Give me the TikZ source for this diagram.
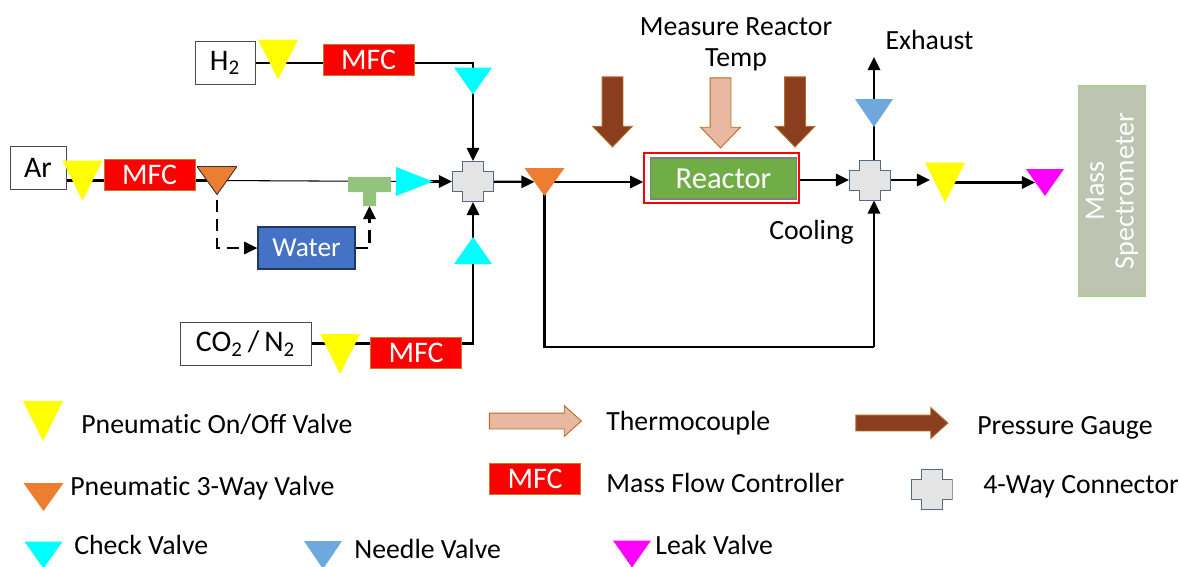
\documentclass[tikz,border=0pt]{standalone}
\usepackage{fontspec}
\setmainfont{Carlito}[Ligatures=NoCommon]
\usepackage{xcolor}
\definecolor{valveyellow}{HTML}{FFFF00}
\definecolor{valveorange}{HTML}{ED7D31}
\definecolor{valvecyan}{HTML}{00FFFF}
\definecolor{valvemagenta}{HTML}{FF00FF}
\definecolor{valveneedle}{HTML}{6FA8DC}
\definecolor{mfcred}{HTML}{FF0000}
\definecolor{mfcedge}{HTML}{C07A2A}
\definecolor{waterblue}{HTML}{4472C4}
\definecolor{waterdark}{HTML}{1F3864}
\definecolor{teegreen}{HTML}{93C47D}
\definecolor{reactorgreen}{HTML}{70AD47}
\definecolor{connfill}{HTML}{E4E4E4}
\definecolor{connedge}{HTML}{5A6A85}
\definecolor{thermofill}{HTML}{E8B9A0}
\definecolor{gaugefill}{HTML}{8B3E1E}
\definecolor{arrowedge}{HTML}{B06A2A}
\definecolor{specfill}{HTML}{BFC4B2}
\definecolor{specedge}{HTML}{A9D18E}
\usetikzlibrary{shapes.arrows, arrows.meta, backgrounds}

\begin{document}
\begin{tikzpicture}[
  x=0.02cm, y=-0.02cm,
  txt/.style={inner sep=0pt, font=\fontsize{15.8}{17.5}\selectfont},
  gasbox/.style={rectangle, draw=black!70, line width=0.5pt, fill=white, inner sep=0pt,
    minimum height=0.86cm, font=\fontsize{17}{18}\selectfont},
  mfc/.style={rectangle, draw=mfcedge, line width=0.5pt, fill=mfcred, text=white, inner sep=0pt,
    minimum width=1.82cm, minimum height=0.62cm, font=\fontsize{17}{18}\selectfont},
  valvebase/.style={rectangle, inner sep=0pt, outer sep=0pt},
  pointdown/.style={valvebase, path picture={\path[#1] (path picture bounding box.north west)
    -- (path picture bounding box.north east) -- (path picture bounding box.south) -- cycle;}},
  pointup/.style={valvebase, path picture={\path[#1] (path picture bounding box.south west)
    -- (path picture bounding box.south east) -- (path picture bounding box.north) -- cycle;}},
  pointright/.style={valvebase, path picture={\path[#1] (path picture bounding box.north west)
    -- (path picture bounding box.south west) -- (path picture bounding box.east) -- cycle;}},
  onoff/.style={pointdown={fill=valveyellow}, minimum width=0.8cm, minimum height=0.8cm},
  threeway/.style={pointdown={fill=valveorange}, minimum width=0.8cm, minimum height=0.56cm},
  needle/.style={pointdown={fill=valveneedle}, minimum width=0.76cm, minimum height=0.56cm},
  leak/.style={pointdown={fill=valvemagenta}, minimum width=0.76cm, minimum height=0.54cm},
  checkd/.style={pointdown={fill=valvecyan}, minimum width=0.76cm, minimum height=0.54cm},
  fourway/.style={rectangle, inner sep=0pt, outer sep=0pt, minimum width=0.84cm, minimum height=0.82cm,
    path picture={\filldraw[fill=connfill, draw=connedge, line width=0.4pt]
      (-10.5,-20) -- (10.5,-20) -- (10.5,-10) -- (20.5,-10) -- (20.5,10) -- (10.5,10)
      -- (10.5,20) -- (-10.5,20) -- (-10.5,10) -- (-20.5,10) -- (-20.5,-10) -- (-10.5,-10) -- cycle;}},
  tee/.style={rectangle, inner sep=0pt, outer sep=0pt, minimum width=0.86cm, minimum height=0.58cm,
    path picture={\fill[teegreen] (-21.5,-14.5) -- (21.5,-14.5) -- (21.5,0.5) -- (6.5,0.5)
      -- (6.5,14.5) -- (-6.5,14.5) -- (-6.5,0.5) -- (-21.5,0.5) -- cycle;}},
  downarrow/.style={single arrow, shape border rotate=270, inner sep=0.2cm, outer sep=0pt, line width=0.5pt,
    draw=arrowedge, minimum height=1.4cm, minimum width=0.78cm,
    single arrow head extend=0.19cm, single arrow tip angle=88},
  sidearrow/.style={single arrow, inner sep=0.15cm, outer sep=0pt, line width=0.5pt, draw=arrowedge,
    minimum height=1.84cm, minimum width=0.6cm,
    single arrow head extend=0.15cm, single arrow tip angle=84},
  pipe/.style={line width=1.3pt, black},
  flow/.style={pipe, -{Stealth[length=7.5pt, width=7pt, inset=0pt]}},
  intovalve/.style={shorten >=-#1}
]
\useasboundingbox (0,0) rectangle (1180,566);

% gas lines
\node[gasbox, minimum width=1.2cm] (h2box) at (225,63) {H\textsubscript{2}\hspace{2pt}};
\node[onoff] (h2valve) at (278,59.5) {};
\node[mfc] (h2mfc) at (368.5,59.5) {MFC};
\node[checkd] (h2check) at (473,81) {};

\node[gasbox, minimum width=1.12cm] (arbox) at (38,167.5) {Ar\hspace{2pt}};
\node[onoff] (arvalve) at (82.5,180.5) {};
\node[mfc] (armfc) at (149.5,174.5) {MFC};
\node[pointdown={fill=valveorange, draw=black!80, line width=0.5pt}, minimum width=0.8cm,
  minimum height=0.56cm] (arthree) at (217,180.5) {};
\node[tee] (watertee) at (369.5,191.5) {};
\node[pointright={fill=valvecyan}, minimum width=0.74cm, minimum height=0.58cm] (archeck) at (414.5,181.5) {};
\node[rectangle, draw=waterdark, line width=0.7pt, fill=waterblue, text=white, inner sep=0pt,
  minimum width=1.94cm, minimum height=0.84cm, font=\fontsize{15.6}{18}\selectfont] (water) at (306.5,248) {Water};

\node[gasbox, minimum width=2.62cm] (co2box) at (245.5,343.5) {CO\textsubscript{2}\,/\,N\textsubscript{2}\hspace{3pt}};
\node[onoff] (co2valve) at (340,354) {};
\node[mfc] (co2mfc) at (416,352.5) {MFC};
\node[pointup={fill=valvecyan}, minimum width=0.76cm, minimum height=0.54cm] (co2check) at (473,250.5) {};

\node[fourway] (mixconn) at (473,181.5) {};

% reactor section
\node[threeway] (outthree) at (544.5,182) {};
\node[rectangle, draw=red, line width=0.8pt, fill=white, minimum width=3.1cm, minimum height=1cm,
  inner sep=0pt] (frame) at (721.5,178) {};
\node[rectangle, draw=black!50, line width=0.7pt, fill=reactorgreen, text=white, inner sep=0pt,
  minimum width=2.92cm, minimum height=0.82cm, font=\fontsize{17.4}{20}\selectfont] (reactor) at (723.5,178.5)
  {\raisebox{-1pt}{Reactor}};
\node[fourway] (coolconn) at (870,180) {};
\node[onoff] (ventvalve) at (945,182.5) {};
\node[leak] (leakvalve) at (1045,182.5) {};
\node[needle] (needlevalve) at (874,113) {};
\coordinate (exhaust) at (874,57);
\coordinate (bypass) at (874,347);
\node[rectangle, rotate=90, draw=specedge, line width=0.7pt, fill=specfill, text=white, inner sep=0pt, align=center,
  minimum width=4.2cm, minimum height=1.34cm, font=\fontsize{16}{17}\selectfont] (spec) at (1112,191)
  {Mass\\Spectrometer};

\node[downarrow, fill=gaugefill] (gaugea) at (612.5,106.5) {};
\node[downarrow, fill=thermofill] (thermo) at (720.5,107.5) {};
\node[downarrow, fill=gaugefill] (gaugeb) at (795,106.5) {};

\node[txt, align=center] (measure) at (736,44) {Measure Reactor\\Temp};
\node[txt] (exhausttxt) at (929.5,40) {Exhaust};
\node[txt] (cooling) at (811.5,232) {Cooling};

% legend
\node[onoff] (lgonoff) at (43,421) {};
\node[txt, anchor=west] (lgonofftxt) at (81,424) {Pneumatic On/Off Valve};
\node[threeway] (lgthree) at (43.5,497) {};
\node[txt, anchor=west] (lgthreetxt) at (70,488) {Pneumatic 3-Way Valve};
\node[checkd] (lgcheck) at (43.5,555) {};
\node[txt, anchor=west] (lgchecktxt) at (74,545) {Check Valve};
\node[needle] (lgneedle) at (323,555) {};
\node[txt, anchor=west] (lgneedletxt) at (354,549) {Needle Valve};
\node[leak] (lgleak) at (632,554) {};
\node[txt, anchor=west] (lgleaktxt) at (655,545) {Leak Valve};
\node[sidearrow, fill=thermofill] (lgthermo) at (531,421) {};
\node[txt, anchor=west] (lgthermotxt) at (606,423) {Thermocouple};
\node[mfc] (lgmfc) at (535,478.5) {MFC};
\node[txt, anchor=west] (lgmfctxt) at (606,483) {Mass Flow Controller};
\node[sidearrow, fill=gaugefill] (lggauge) at (897.5,423) {};
\node[txt, anchor=west] (lggaugetxt) at (977,428) {Pressure Gauge};
\node[fourway] (lgconn) at (931.5,489) {};
\node[txt, anchor=west] (lgconntxt) at (983,487) {4-Way Connector};

\begin{scope}[on background layer]
\draw[pipe] (h2box.east) -- (h2box -| h2mfc.center);
\draw[flow] (h2box -| h2mfc.center) -| (mixconn);
\draw[pipe] (arbox.east |- arvalve) -- (arthree.center);
\draw[pipe, line width=0.6pt] (arthree.center) -- (archeck.center);
\draw[flow] (archeck.center) -- (mixconn);
\draw[flow, dashed, dash pattern=on 7pt off 4pt] (arthree.center) |- (water);
\draw[flow, dashed, dash pattern=on 7pt off 4pt] (water.east) -| (watertee);
\draw[pipe] (co2box.east) -- (co2box -| co2mfc.center);
\draw[flow] (co2box -| co2mfc.center) -| (mixconn);
\draw[flow, intovalve=0.2cm] (mixconn) -- (outthree);
\draw[flow] (outthree.center) -- (frame.west |- outthree);
\draw[flow] (frame.east |- coolconn) -- (coolconn);
\draw[flow, intovalve=0.1cm] (coolconn) -- (coolconn -| ventvalve.west);
\draw[flow, intovalve=0.18cm] (ventvalve.center) -- (leakvalve);
\draw[flow] (coolconn -| exhaust) -- (exhaust);
\draw[pipe] (outthree.center) |- (bypass);
\draw[flow] (bypass) -- (bypass |- coolconn.south);
\end{scope}
\end{tikzpicture}
\end{document}
